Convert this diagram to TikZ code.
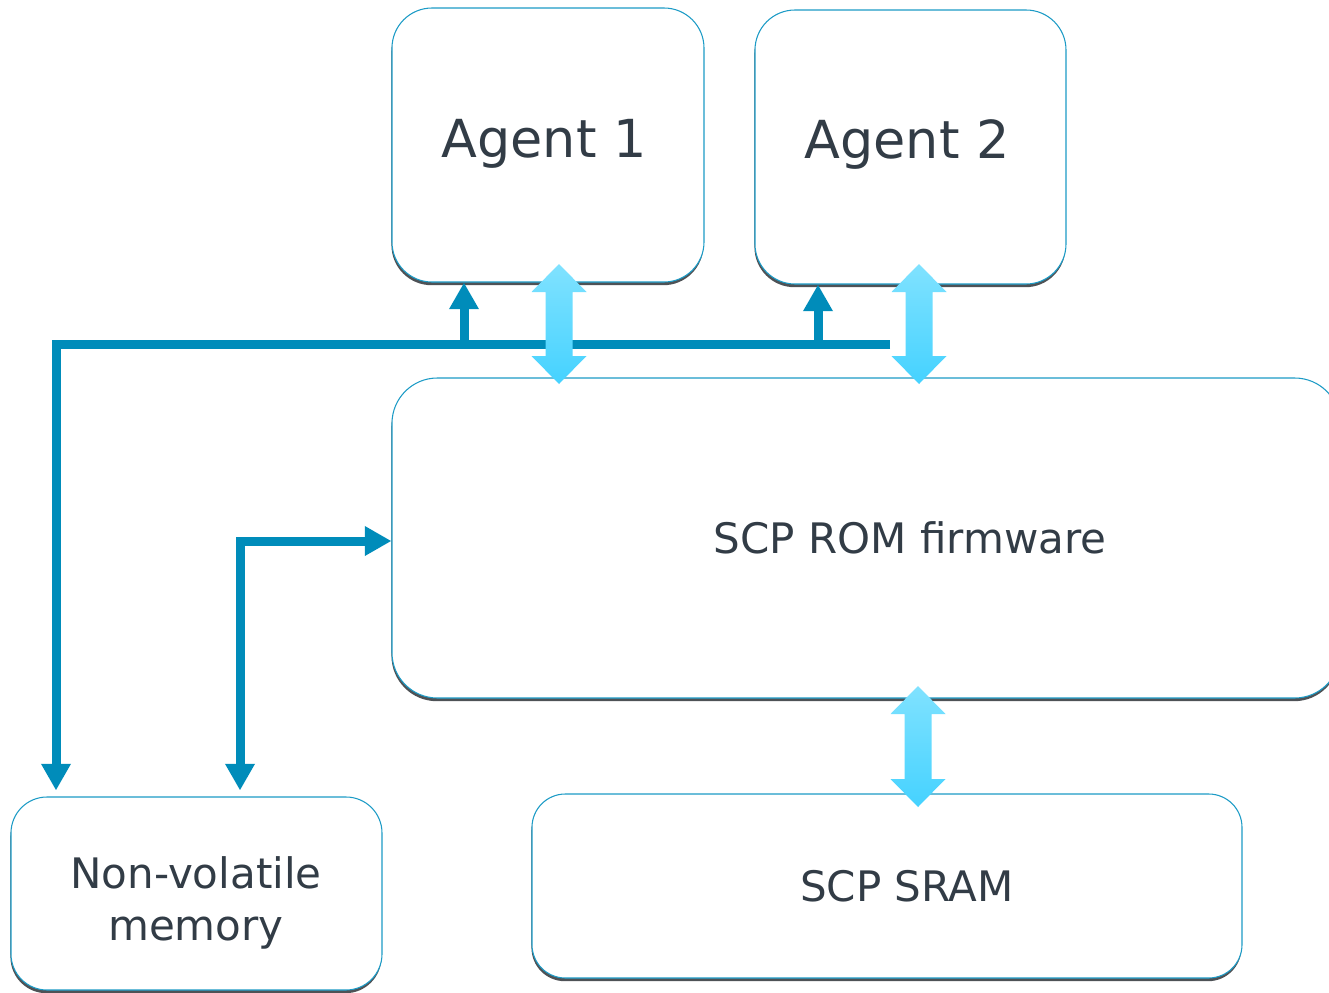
\documentclass[tikz,border=0pt]{standalone}
\usepackage{fontspec}
\setmainfont{DejaVu Sans}
\usetikzlibrary{arrows.meta,shadows,calc}
\definecolor{edge}{HTML}{1C9BC6}
\definecolor{shade}{HTML}{4E5256}
\definecolor{ink}{HTML}{323C46}
\definecolor{bus}{HTML}{008CBA}
\definecolor{fattop}{HTML}{80E2FF}
\definecolor{fatbot}{HTML}{45D2FF}
\tikzset{
  box/.style={draw=edge, line width=0.8pt, fill=white, rounded corners=#1,
    drop shadow={shadow xshift=-0.4pt, shadow yshift=-2.4pt, fill=shade, opacity=1}},
  box/.default=30pt,
  lbl/.style={text=ink, anchor=base, inner sep=0pt, font=\fontsize{31.5}{39}\selectfont},
  biglbl/.style={lbl, font=\fontsize{39.3}{46}\selectfont},
  link/.style={draw=bus, line width=6.75pt, miter limit=10,
    arrows={-Triangle[width=21pt,length=20pt]}},
}
% wide two-headed bus arrow: centre x, top tip y, bottom tip y
\newcommand\fatarrow[3]{%
  \shade[top color=fattop, bottom color=fatbot]
    (#1,#2) -- ++(27.5,28) -- ++(-14,0) -- (#1+13.5,#3-28) -- ++(14,0)
    -- (#1,#3) -- ++(-27.5,-28) -- ++(14,0) -- (#1-13.5,#2+28) -- ++(-14,0) -- cycle;}
\begin{document}
\begin{tikzpicture}[x=0.75pt,y=-0.75pt]
\useasboundingbox (0,0) rectangle (1329,993);
\clip (0,0) rectangle (1329,993);
% boxes
\node[box, minimum width=312*0.75pt, minimum height=274*0.75pt] (a1) at (548,145) {};
\node[box, minimum width=311*0.75pt, minimum height=274*0.75pt] (a2) at (910.5,147) {};
\node[box=34pt, minimum width=948*0.75pt, minimum height=320*0.75pt] (rom) at (866,538) {};
\node[box=27pt, minimum width=371*0.75pt, minimum height=193*0.75pt] (nv) at (196.5,893.5) {};
\node[box=25pt, minimum width=710*0.75pt, minimum height=184*0.75pt] (sram) at (887,886) {};
% labels
\node[biglbl] (a1t) at (544,157) {Agent 1};
\node[biglbl] (a2t) at (907,158) {Agent 2};
\node[lbl] (romt) at (910,553) {SCP ROM firmware};
\node[lbl] (sramt) at (907,901) {SCP SRAM};
\node[lbl, align=center] (nvt) at (196,940) {Non-volatile\\memory};
% bus lines
\coordinate (busend) at (890,344);
\draw[link] (busend) -- (busend -| 56,0) -- ($(nv.north -| 56,0)+(0,-6)$);
\draw[link] (464,344) -- (a1.south -| 464,0);
\draw[link] (818,344) -- (a2.south -| 818,0);
\draw[link, arrows={Triangle[width=21pt,length=20pt]-Triangle[width=21pt,length=20pt]}]
  ($(nv.north -| 240,0)+(0,-6)$) |- ($(rom.west)+(0,3)$);
% wide transfer arrows
\fatarrow{559}{264}{384}
\fatarrow{919}{264}{384}
\fatarrow{918}{686}{807}
\end{tikzpicture}
\end{document}
